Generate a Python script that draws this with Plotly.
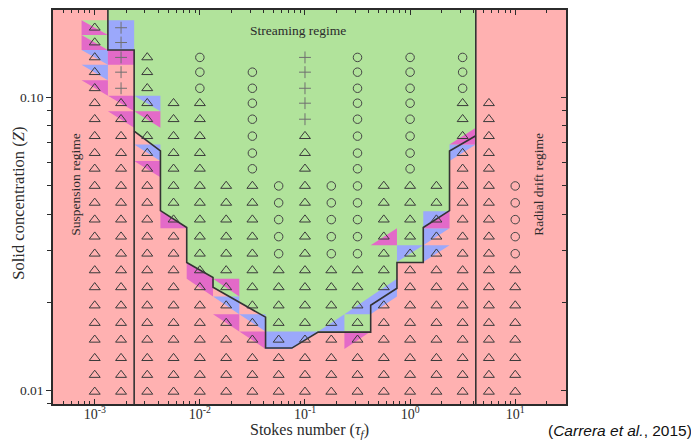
import numpy as np
import plotly.graph_objects as go

# ---------------- data ----------------
# Stokes numbers of the simulation grid
tau_f = [0.001, 0.00178, 0.00316, 0.00562, 0.01, 0.0178, 0.0316, 0.0562,
         0.1, 0.178, 0.316, 0.562, 1.0, 1.78, 3.16, 5.62, 10.0]
# Solid concentrations of the simulation grid (top row first)
Z_rows = [0.173, 0.154, 0.137, 0.122, 0.1075, 0.0956, 0.0843, 0.0738, 0.0646,
          0.0571, 0.0499, 0.0437, 0.0383, 0.0335, 0.0293, 0.0257, 0.0225,
          0.0195, 0.0170, 0.0149, 0.0129, 0.0113, 0.0099]
# run outcome per grid point: t = triangle, o = circle, + = plus, . = no run
outcome = [
    "t+...............",
    "t+...............",
    "t+t.o...+.o.o.o..",
    "t+t.o.o.+.o.o.o..",
    "t+t.o.o.+.o.o.o..",
    "ttttt.o.+.o.o.tt.",
    "ttttt.o.+.o.o.tt.",
    "ttttt.o.t.o.o.tt.",
    "ttttt.o.t.o.o.tt.",
    "ttttt.o.t.o.o.tt.",
    "tttttttotoottttto",
    "tttttttotoottttto",
    "tttttttotoottttto",
    "tttttttotoottttto",
    "tttttttotoottttto",
    "ttttttttttttttttt",
    "ttttttttttttttttt",
    "ttttttttttttttttt",
    "ttttttttttttttttt",
    "ttttttttttttttttt",
    "ttttttttttttttttt",
    "ttttttttttttttttt",
    "ttttttttttttttttt",
]

# regime boundaries (tau_f, Z)
susp_tau = [0.001334, 0.001334, 0.002371, 0.002371]
susp_Z = [0.21, 0.1452, 0.1452, 0.0085]
drift_tau = [4.217, 4.217]
drift_Z = [0.21, 0.0085]
stream_tau = [0.002371, 0.004217, 0.004217, 0.0075, 0.0075, 0.01334, 0.01334,
              0.04217, 0.04217, 0.075, 0.1334, 0.4217, 0.4217, 0.75, 0.75,
              1.334, 1.334, 2.371, 2.371, 4.217]
stream_Z = [0.0768, 0.0657, 0.0411, 0.0360, 0.02735, 0.0243, 0.0225, 0.0178,
            0.01396, 0.01396, 0.01582, 0.01582, 0.01954, 0.02233, 0.02735,
            0.02735, 0.0360, 0.0411, 0.0657, 0.0740]

# transition cells: (column, row, half of cell, colour key)
transition_cells = [
    (0, 0, "LL", "m"), (0, 0, "UR", "g"),
    (0, 1, "LL", "m"), (0, 1, "UR", "g"),
    (1, 0, "full", "b"), (1, 1, "full", "b"),
    (0, 2, "UR", "b"), (1, 2, "full", "m"),
    (0, 3, "UR", "b"), (0, 4, "UR", "m"),
    (1, 5, "UR", "m"), (2, 5, "UR", "b"),
    (1, 6, "UR", "m"), (2, 6, "UR", "m"),
    (2, 8, "UR", "b"), (2, 9, "UR", "m"),
    (3, 12, "LL", "m"),
    (4, 15, "LL", "m"), (4, 16, "UR", "m"),
    (5, 16, "UR", "m"), (5, 17, "UR", "b"), (5, 18, "UR", "m"),
    (6, 18, "UR", "b"), (6, 19, "UR", "m"),
    (7, 19, "full", "b"), (8, 19, "UL", "b"),
    (9, 18, "LR", "b"), (10, 19, "UL", "m"),
    (10, 17, "LR", "b"), (11, 17, "UL", "b"), (11, 16, "LR", "b"),
    (11, 13, "LR", "m"),
    (12, 14, "UL", "b"),
    (13, 12, "UL", "b"), (13, 12, "LR", "m"),
    (13, 13, "UL", "b"), (13, 14, "UL", "b"),
    (14, 7, "LR", "m"), (14, 8, "UL", "b"),
]

# ---------------- styling ----------------
PINK = "#ffb1b1"
GREEN = "#b1e39b"
BLUE = "#9ba8fb"
MAGENTA = "#e36ac8"
COLORS = {"g": GREEN, "b": BLUE, "m": MAGENTA}
INK = "#2b2b2b"
SERIF = "Liberation Serif"

# cell edges (log space) derived from the grid
lx = np.log10(tau_f)
col_edges = np.concatenate([[lx[0] - (lx[1] - lx[0]) / 2], (lx[:-1] + lx[1:]) / 2,
                            [lx[-1] + (lx[-1] - lx[-2]) / 2]])
ly = np.log10(Z_rows)
row_edges = np.concatenate([[ly[0] + (ly[0] - ly[1]) / 2], (ly[:-1] + ly[1:]) / 2,
                            [ly[-1] - (ly[-2] - ly[-1]) / 2]])


def cell_polygon(c, j, half):
    xl, xr_ = col_edges[c], col_edges[c + 1]
    yt, yb = row_edges[j], row_edges[j + 1]
    TL, TR, BL, BR = (xl, yt), (xr_, yt), (xl, yb), (xr_, yb)
    pts = {"full": [TL, TR, BR, BL], "UR": [TL, TR, BR], "LL": [TL, BL, BR],
           "UL": [TL, TR, BL], "LR": [TR, BR, BL]}[half]
    return [10 ** p[0] for p in pts], [10 ** p[1] for p in pts]


fig = go.Figure()

# streaming region (green)
green_x = susp_tau[:3] + stream_tau + [drift_tau[0]]
green_y = susp_Z[:3] + stream_Z + [drift_Z[0]]
fig.add_trace(go.Scatter(x=green_x, y=green_y, fill="toself", fillcolor=GREEN,
                         mode="none", hoverinfo="skip"))

# transition cells
for key, col in COLORS.items():
    xs, ys = [], []
    for c, j, half, k in transition_cells:
        if k != key:
            continue
        px, py = cell_polygon(c, j, half)
        xs += px + [None]
        ys += py + [None]
    fig.add_trace(go.Scatter(x=xs, y=ys, fill="toself", fillcolor=col,
                             mode="none", hoverinfo="skip"))

# boundary lines
for bx, by in [(susp_tau, susp_Z), (drift_tau, drift_Z), (stream_tau, stream_Z)]:
    fig.add_trace(go.Scatter(x=bx, y=by, mode="lines",
                             line=dict(color="#333333", width=1.6), hoverinfo="skip"))

# simulation outcomes
sym = {"t": ("triangle-up-open", 9.5, "#3a3a3a", 1.0),
       "o": ("circle-open", 8.5, "#454545", 1.0),
       "+": ("cross-thin-open", 8.5, "#707070", 1.0)}
for ch, (symbol, size, color, lw) in sym.items():
    xs, ys = [], []
    for j, row in enumerate(outcome):
        for c, v in enumerate(row):
            if v == ch:
                xs.append(tau_f[c])
                ys.append(Z_rows[j])
    fig.add_trace(go.Scatter(x=xs, y=ys, mode="markers", hoverinfo="skip",
                             marker=dict(symbol=symbol, size=size,
                                         line=dict(color=color, width=lw),
                                         color=color)))

# invisible trace hosting the right-hand (inner-tick) axis
fig.add_trace(go.Scatter(x=[tau_f[0]], y=[Z_rows[-1]], yaxis="y2", mode="markers",
                         marker=dict(opacity=0), hoverinfo="skip"))

xr = [-3.397, 1.483]
yr = [-2.046, -0.7015]
minor_x = [m * 10.0 ** k for k in range(-4, 2) for m in range(2, 10)
           if xr[0] < np.log10(m * 10.0 ** k) < xr[1]]
minor_y = [m * 10.0 ** k for k in range(-3, 0) for m in range(2, 10)
           if yr[0] < np.log10(m * 10.0 ** k) < yr[1]]
ytickfont = dict(family=SERIF, size=13.5, color=INK)
xtickfont = dict(family=SERIF, size=14, color=INK)

# page body has an 8px margin: figure is sized to fit the 699x442 window
fig.update_layout(
    width=691, height=434,
    margin=dict(l=45, r=133, t=0, b=38),
    paper_bgcolor="white", plot_bgcolor=PINK,
    showlegend=False,
    xaxis=dict(type="log", range=xr, showgrid=False, zeroline=False,
               tickvals=[1e-3, 1e-2, 1e-1, 1, 10],
               ticktext=["10<sup>-3</sup>", "10<sup>-2</sup>", "10<sup>-1</sup>",
                         "10<sup>0</sup>", "10<sup>1</sup>"],
               ticks="inside", ticklen=5, tickwidth=1, tickcolor=INK,
               showline=True, linecolor=INK, linewidth=1.5, mirror="ticks",
               ticklabelstandoff=-4,
               minor=dict(tickvals=minor_x, ticks="inside", ticklen=3,
                          tickcolor=INK, showgrid=False),
               tickfont=xtickfont),
    yaxis=dict(type="log", range=yr, showgrid=False, zeroline=False,
               tickvals=[0.01, 0.1], ticktext=["0.01", "0.10"],
               ticks="outside", ticklen=5, tickwidth=1, tickcolor=INK,
               showline=True, linecolor=INK, linewidth=1.5, mirror=True,
               minor=dict(tickvals=minor_y, ticks="outside", ticklen=4,
                          tickcolor=INK, showgrid=False),
               tickfont=ytickfont),
    yaxis2=dict(type="log", range=yr, overlaying="y", side="right",
                showgrid=False, zeroline=False, showticklabels=False,
                tickvals=[0.01, 0.1], ticks="inside", ticklen=5, tickcolor=INK,
                showline=False,
                minor=dict(tickvals=minor_y, ticks="inside", ticklen=4,
                           tickcolor=INK, showgrid=False)),
)

annos = [
    dict(text="Streaming regime", x=0.4775, y=0.947, textangle=0, size=13.5),
    dict(text="Suspension regime", x=0.0443, y=0.556, textangle=-90, size=13.5),
    dict(text="Radial drift regime", x=0.946, y=0.557, textangle=-90, size=13.5),
    dict(text="Stokes number (<i>τ</i><sub><i>f</i></sub>)", x=0.5, y=-0.066,
         textangle=0, size=16),
    dict(text="Solid concentration (<i>Z</i>)", x=-0.069, y=0.51, textangle=-90,
         size=16.5),
]
for a in annos:
    fig.add_annotation(text=a["text"], x=a["x"], y=a["y"], xref="paper", yref="paper",
                       showarrow=False, textangle=a["textangle"],
                       xanchor="center", yanchor="middle",
                       font=dict(family=SERIF, size=a["size"], color=INK))

fig.add_annotation(text="(<i>Carrera et al.</i>, 2015)", x=1.249, y=-0.066,
                   xref="paper", yref="paper", showarrow=False,
                   xanchor="right", yanchor="middle",
                   font=dict(family="Liberation Sans", size=15.5, color="#111111"))

fig.write_html("out.html")
